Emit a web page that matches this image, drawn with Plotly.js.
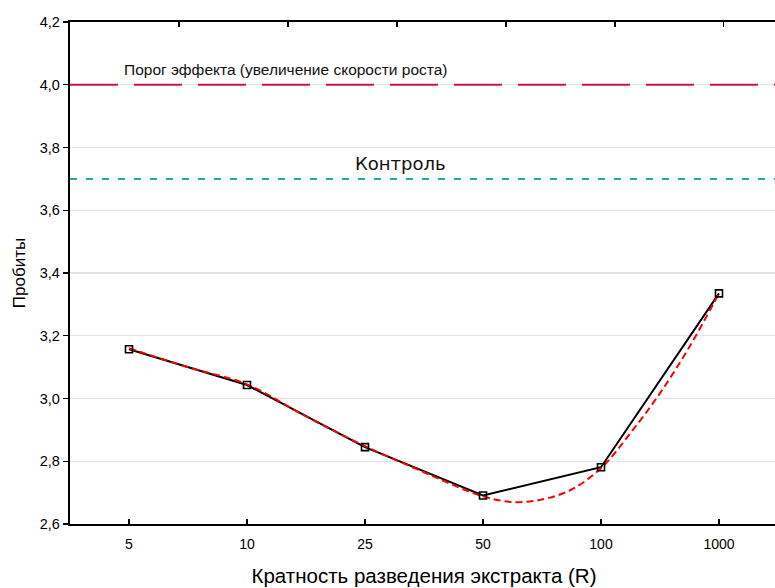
<!DOCTYPE html>
<html>
<head>
<meta charset="utf-8">
<script src="https://cdn.plot.ly/plotly-3.0.1.min.js"></script>
<style>
html,body{margin:0;padding:0;overflow:hidden;background:#fff;}
#chart{width:790px;height:588px;}
</style>
</head>
<body>
<div id="chart"></div>
<script>
// Data
var dilutionLabels = ['5', '10', '25', '50', '100', '1000'];
var probitValues = [3.157, 3.043, 2.845, 2.691, 2.781, 3.335];
// fitted curve, positions in category-index units
var fitPositions = [0, 0.5, 1, 1.5, 2, 2.5, 2.75, 3, 3.25, 3.5, 3.75, 4, 4.25, 4.5, 4.75, 5];
var fitValues = [3.16, 3.10, 3.045, 2.943, 2.848, 2.765, 2.724, 2.688, 2.670, 2.678, 2.710, 2.778, 2.890, 3.017, 3.165, 3.335];
var thresholdValue = 4.0;
var controlValue = 3.7;
var thresholdLabel = 'Порог эффекта (увеличение скорости роста)';
var controlLabel = 'Контроль';
var xTitle = 'Кратность разведения экстракта (R)';
var yTitle = 'Пробиты';
var topTicks = [1, 2, 3, 4, 5, 6];

var idx = dilutionLabels.map(function(_, i){ return i; });

var traces = [
  {x: idx, y: probitValues, type: 'scatter', mode: 'lines',
   line: {color: '#000000', width: 2}, hoverinfo: 'skip'},
  {x: fitPositions, y: fitValues, type: 'scatter', mode: 'lines',
   line: {color: '#ff0000', width: 2, dash: '7px,4px', shape: 'spline', smoothing: 1}, hoverinfo: 'skip'},
  {x: idx, y: probitValues, type: 'scatter', mode: 'markers',
   marker: {symbol: 'square-open', size: 7, color: '#000000', line: {width: 1.6, color: '#000000'}}},
  {x: topTicks, y: topTicks.map(function(){ return null; }), xaxis: 'x2', yaxis: 'y', type: 'scatter', mode: 'markers'}
];

var layout = {
  width: 790, height: 588,
  margin: {l: 70, r: 12, t: 22, b: 64},
  paper_bgcolor: '#ffffff', plot_bgcolor: '#ffffff',
  showlegend: false,
  separators: ', ',
  font: {family: 'Liberation Sans, Arial, sans-serif', color: '#000000'},
  xaxis: {
    range: [-0.5, 5.5], tickvals: idx, ticktext: dilutionLabels,
    showgrid: false, zeroline: false,
    showline: true, linecolor: '#000000', linewidth: 2,
    ticks: 'inside', ticklen: 5, tickwidth: 1.5, tickcolor: '#000000',
    ticklabelstandoff: 6,
    tickfont: {size: 14, family: 'Liberation Sans, Arial, sans-serif'},
    title: {text: xTitle, font: {size: 20.5, family: 'Liberation Sans, Arial, sans-serif'}, standoff: 18}
  },
  xaxis2: {
    overlaying: 'x', side: 'top', anchor: 'y', range: [0, 6.5], tickvals: topTicks,
    showticklabels: false, showgrid: false, zeroline: false,
    showline: true, linecolor: '#000000', linewidth: 2,
    ticks: 'inside', ticklen: 5, tickwidth: 1.8, tickcolor: '#000000'
  },
  yaxis: {
    range: [2.6, 4.2], dtick: 0.2, tick0: 2.6, tickformat: '.1f',
    showgrid: true, gridcolor: '#e3e3e3', gridwidth: 1.3, zeroline: false,
    showline: true, linecolor: '#000000', linewidth: 2.3,
    ticks: 'outside', ticklen: 5, tickwidth: 1.3, tickcolor: '#000000',
    tickfont: {size: 14.5, family: 'Liberation Sans, Arial, sans-serif'},
    title: {text: yTitle, font: {size: 17, family: 'Liberation Sans, Arial, sans-serif'}, standoff: 10}
  },
  shapes: [
    {type: 'line', xref: 'paper', x0: 0, x1: 1, yref: 'y', y0: thresholdValue, y1: thresholdValue,
     line: {color: '#c8105e', width: 2.2, dash: '48px,16px'}},
    {type: 'line', xref: 'paper', x0: 0, x1: 1, yref: 'y', y0: controlValue, y1: controlValue,
     line: {color: '#1eaca6', width: 2, dash: '7px,9px'}}
  ],
  annotations: [
    {text: thresholdLabel, xref: 'paper', x: 0.073, xanchor: 'left', yref: 'y', y: thresholdValue,
     yanchor: 'middle', yshift: 15, showarrow: false,
     font: {size: 15.5, family: 'Liberation Sans, Arial, sans-serif', color: '#111111'}},
    {text: controlLabel, xref: 'paper', x: 0.4675, xanchor: 'center', yref: 'y', y: controlValue,
     yanchor: 'middle', yshift: 15, showarrow: false,
     font: {size: 18, family: 'DejaVu Sans, sans-serif', color: '#111111'}}
  ]
};

Plotly.newPlot('chart', traces, layout, {displayModeBar: false, staticPlot: true});
</script>
</body>
</html>
